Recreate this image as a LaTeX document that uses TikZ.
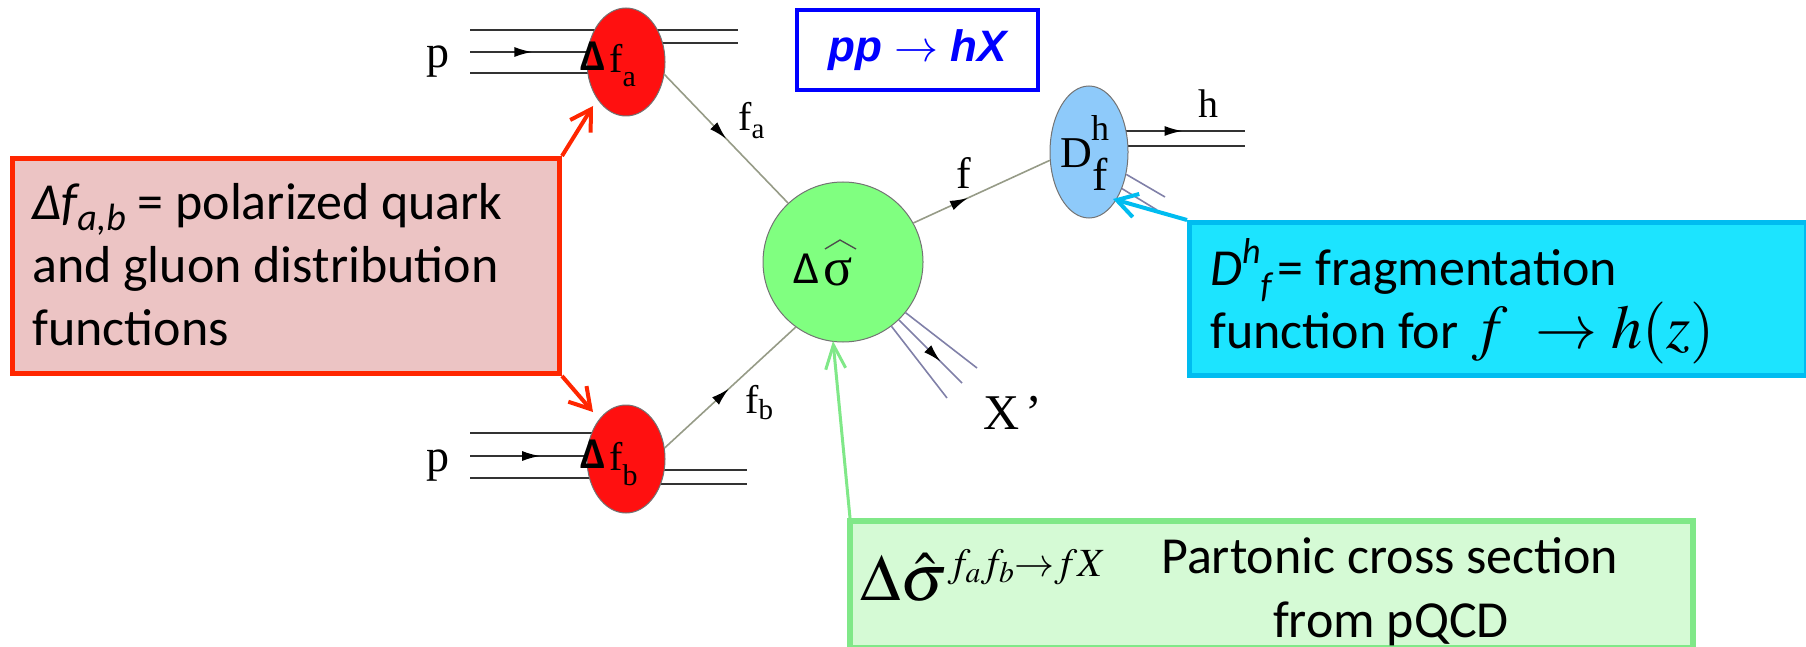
\documentclass[tikz,border=0pt]{standalone}
\usepackage{mathptmx}
\usepackage[no-math]{fontspec}
\setmainfont{Carlito}
\newfontfamily\tms{Liberation Serif}
\newfontfamily\arl{Liberation Sans}
\usetikzlibrary{shapes.geometric,arrows.meta,decorations.markings}
\pgfdeclarelayer{bg}\pgfsetlayers{bg,main}
\newcommand\fsz[1]{\fontsize{#1}{#1}\selectfont}
\definecolor{redfill}{RGB}{236,196,196}
\definecolor{redline}{RGB}{255,38,0}
\definecolor{cyanfill}{RGB}{28,228,255}
\definecolor{cyanline}{RGB}{0,188,240}
\definecolor{greenfill}{RGB}{213,250,213}
\definecolor{greenline}{RGB}{128,232,136}
\definecolor{blobred}{RGB}{255,16,16}
\definecolor{blobgreen}{RGB}{128,255,128}
\definecolor{blobblue}{RGB}{142,202,250}
\definecolor{propc}{RGB}{150,155,135}
\definecolor{xlinec}{RGB}{128,128,168}
\definecolor{ppblue}{RGB}{0,0,255}
\begin{document}
\begin{tikzpicture}[x=1pt,y=-1pt,
  blob/.style={ellipse, draw=black!55, line width=1pt, inner sep=0pt},
  hadline/.style={line width=2pt, draw=black!80},
  partline/.style={line width=1.6pt, draw=propc},
  xl/.style={line width=1.6pt, draw=xlinec},
  midarrow/.style={decoration={markings, mark=at position #1 with {\arrow[black]{Latex[length=18pt,width=10pt]}}}, postaction={decorate}},
  infobox/.style={anchor=north west, inner sep=0pt, line width=5pt},
  txt/.style={anchor=base west, inner sep=0pt},
  redarr/.style={draw=redline, line width=4pt, -{Straight Barb[length=20pt,width=24pt]}},
  cyanarr/.style={draw=cyanline, line width=4pt, -{Straight Barb[length=20pt,width=24pt]}},
  greenarr/.style={draw=greenline, line width=3pt, -{Straight Barb[length=24pt,width=20pt]}}
]
\useasboundingbox (0,0) rectangle (1806,647);

% blobs
\node[blob, fill=blobred, minimum width=78pt, minimum height=108pt] (ea) at (626,62) {};
\node[blob, fill=blobred, minimum width=78pt, minimum height=108pt] (eb) at (626,459) {};
\node[blob, circle, fill=blobgreen, minimum size=160pt] (sig) at (843,262) {};
\node[blob, fill=blobblue, minimum width=78pt, minimum height=132pt] (eD) at (1089,152) {};

% hadron lines behind blobs
\coordinate (pa1) at (470,30); \coordinate (pa2) at (470,52); \coordinate (pa3) at (470,73);
\coordinate (qa1) at (738,30); \coordinate (qa2) at (738,43);
\coordinate (pb1) at (470,433); \coordinate (pb2) at (470,456); \coordinate (pb3) at (470,478);
\coordinate (qb1) at (747,470); \coordinate (qb2) at (747,484);
\coordinate (hq1) at (1245,131); \coordinate (hq2) at (1245,146);
\begin{pgfonlayer}{bg}
\draw[hadline] (pa1) -- (pa1 -| ea.center);
\draw[hadline, midarrow=0.4] (pa2) -- (pa2 -| ea.center);
\draw[hadline] (pa3) -- (pa3 -| ea.center);
\draw[hadline] (qa1 -| ea.center) -- (qa1);
\draw[hadline] (qa2 -| ea.center) -- (qa2);
\draw[hadline] (pb1) -- (pb1 -| eb.center);
\draw[hadline, midarrow=0.45] (pb2) -- (pb2 -| eb.center);
\draw[hadline] (pb3) -- (pb3 -| eb.center);
\draw[hadline] (qb1 -| eb.center) -- (qb1);
\draw[hadline] (qb2 -| eb.center) -- (qb2);
\draw[hadline, midarrow=0.6] (hq1 -| eD.center) -- (hq1);
\draw[hadline] (hq2 -| eD.center) -- (hq2);
\end{pgfonlayer}

% parton lines
\draw[partline, midarrow=0.5] (ea.-18) -- (sig.133);
\draw[partline, midarrow=0.49] (eb.16) -- (sig.234);
\draw[partline, midarrow=0.4] (sig.29) -- (eD.192);
\coordinate (x1) at (977,368); \coordinate (x2) at (962,383); \coordinate (x3) at (947,398);
\draw[xl] (sig.-39) -- (x1);
\draw[xl, midarrow=0.66] (sig.-46) -- (x2);
\draw[xl] (sig.-53) -- (x3);
\coordinate (y1) at (1165,197); \coordinate (y2) at (1157,210);
\draw[xl] (eD.-31) -- (y1);
\draw[xl] (eD.-48) -- (y2);

% diagram labels
\node[txt, font=\tms\fsz{46}] (pA) at (426,68) {p};
\node[txt, font=\tms\fsz{46}] (pB) at (426,471) {p};
\node[txt, font=\bfseries\fsz{44}] (dA) at (580,71) {Δ};
\node[txt, font=\tms\fsz{40}] (fA) at (609,73) {f\raisebox{-14pt}{\fsz{30}a}};
\node[txt, font=\bfseries\fsz{44}] (dB) at (580,468) {Δ};
\node[txt, font=\tms\fsz{40}] (fB) at (609,470) {f\raisebox{-15pt}{\fsz{30}b}};
\node[txt, font=\tms\fsz{40}] (lfa) at (738,131) {f\raisebox{-8pt}{\fsz{29}a}};
\node[txt, font=\tms\fsz{40}] (lfb) at (745,413) {f\raisebox{-6pt}{\fsz{29}b}};
\node[txt, font=\tms\fsz{44}] (lf) at (956,189) {f};
\node[txt, font=\tms\fsz{40}] (lh) at (1198,118) {h};
\node[txt, font=\tms\fsz{50}] (lX) at (983,429) {X\hspace{6pt}’};
\node[txt, font=\fsz{46}] (dS) at (793,283) {Δ};
\node[txt, font=\tms\fsz{54}] (sg) at (823,285) {σ};
\draw[line width=1.3pt, black!70] ([shift={(2,-36)}]sg.base west) -- ([shift={(17,-45)}]sg.base west) -- ([shift={(33,-36)}]sg.base west);
\node[txt, font=\tms\fsz{44}] (dD) at (1060,168) {D};
\node[txt, font=\tms\fsz{36}] (dh) at (1091,141) {h};
\node[txt, font=\tms\fsz{46}] (df) at (1092,190) {f};

% process box
\node[draw=ppblue, line width=4pt, minimum width=241pt, minimum height=80pt, inner sep=0pt, text=ppblue, font=\arl\bfseries\itshape\fsz{44}] (pp) at (917.5,50) {pp $\rightarrow$ hX};

% info boxes
\node[infobox, draw=redline, fill=redfill, minimum width=547pt, minimum height=215pt] (rbox) at (10,156) {};
\node[txt, font=\fsz{52}] (rt1) at (32,219) {{\itshape Δf\raisebox{-11pt}{\fsz{38}a,b}} = polarized quark};
\node[txt, font=\fsz{52}] (rt2) at (32,282) {and gluon distribution};
\node[txt, font=\fsz{52}] (rt3) at (32,345) {functions};

\node[infobox, draw=cyanline, fill=cyanfill, minimum width=617pt, minimum height=153pt] (cbox) at (1187,220) {};
\node[txt, font=\fsz{52}] (ct1) at (1210,285) {{\itshape D\raisebox{22pt}{\fsz{36}h}\raisebox{-12pt}{\fsz{36}f}}\hspace{6pt}= fragmentation};
\node[txt, font=\fsz{52}] (ct2) at (1210,348) {function for{\fsz{62}$\;f\;\rightarrow h(z)$}};

\node[infobox, draw=greenline, fill=greenfill, line width=6pt, minimum width=843pt, minimum height=127pt] (gbox) at (847,518) {};
\node[txt, font=\fsz{66}] (gm) at (860,600) {$\Delta\hat{\sigma}^{\mbox{\fsz{40}$f_af_b{\rightarrow}fX$}}$};
\node[txt, font=\fsz{52}] (gt1) at (1161,573) {Partonic cross section};
\node[anchor=base, inner sep=0pt, font=\fsz{52}] (gt2) at (1391,637) {from pQCD};

% annotation arrows
\coordinate (ta) at (593,106); \coordinate (tb) at (593,412);
\coordinate (tD) at (1113,199); \coordinate (ts) at (833,341);
\draw[redarr] (rbox.north east) -- (ta);
\draw[redarr] (rbox.south east) -- (tb);
\draw[cyanarr] (cbox.north west) -- (tD);
\draw[greenarr] ([xshift=3pt]gbox.north west) -- (ts);
\end{tikzpicture}
\end{document}
